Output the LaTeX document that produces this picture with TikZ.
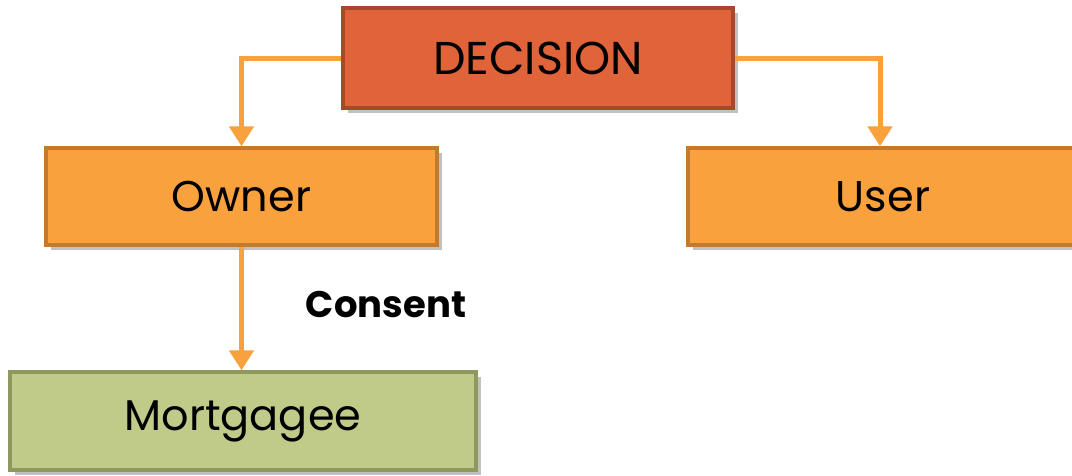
\documentclass[tikz,border=0pt]{standalone}
\usepackage{fontspec}
\setmainfont{Poppins}
\usetikzlibrary{arrows.meta,shadows}

\definecolor{decfill}{HTML}{E16339}
\definecolor{decline}{HTML}{A9472A}
\definecolor{partyfill}{HTML}{F9A13D}
\definecolor{partyline}{HTML}{C27B2E}
\definecolor{bankfill}{HTML}{C1CB89}
\definecolor{bankline}{HTML}{8E985F}

\begin{document}
\begin{tikzpicture}[x=1pt,y=1pt,
  box/.style={draw,line width=3.5pt,minimum height=97pt,inner sep=0pt,
    drop shadow={shadow xshift=5pt,shadow yshift=-5pt,fill=black!30,opacity=.8}},
  link/.style={draw=partyfill,line width=5pt,
    -{Triangle[length=20pt,width=24pt]}}]
\clip (0,0) rectangle (1072,-475);
\fill[white] (0,0) rectangle (1072,-475);
\node[box,fill=decfill,draw=decline,minimum width=390pt,minimum height=100pt,
  font=\fontsize{46}{50}\selectfont] (decision) at (538,-58) {DECISION};
\node[box,fill=partyfill,draw=partyline,minimum width=391pt,
  font=\fontsize{43}{46}\selectfont] (owner) at (241.5,-196.5) {Owner};
\node[box,fill=partyfill,draw=partyline,minimum width=390pt,
  font=\fontsize{43}{46}\selectfont] (user) at (883,-196.5) {User};
\node[box,fill=bankfill,draw=bankline,minimum width=466pt,minimum height=98pt,
  font=\fontsize{43}{46}\selectfont] (mortgagee) at (243,-421) {Mortgagee};
\node[font=\fontsize{37}{40}\selectfont\bfseries] (consent) at (386,-305) {Consent};
\draw[link] (decision.west) -| (owner.north);
\draw[link] (decision.east) -| ([xshift=-3pt]user.north);
\draw[link] (owner.south) -- (owner.south |- mortgagee.north);
\end{tikzpicture}
\end{document}
